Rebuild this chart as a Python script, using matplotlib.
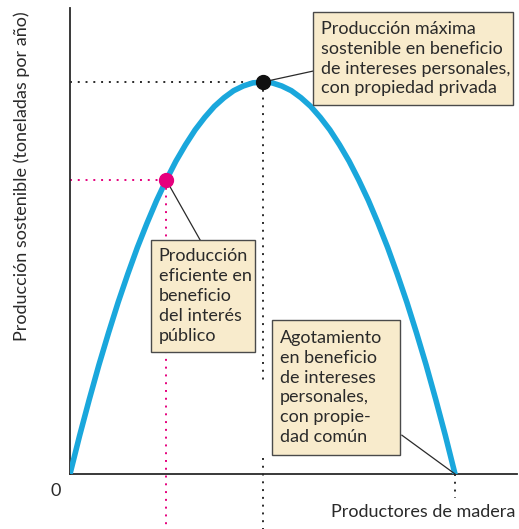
import numpy as np
import matplotlib.pyplot as plt
from matplotlib.patches import Rectangle

plt.rcParams['font.family'] = ['Lato', 'DejaVu Sans']

# harvest level (effort) vs sustainable yield
effort = [0, 2.5, 5, 7.5, 10, 12.5, 15, 17.5, 20, 22.5, 25, 27.5, 30, 32.5, 35, 37.5,
          40, 42.5, 45, 47.5, 50, 52.5, 55, 57.5, 60, 62.5, 65, 67.5, 70, 72.5, 75,
          77.5, 80, 82.5, 85, 87.5, 90, 92.5, 95, 97.5, 100]
yield_ = [0, 9.8, 19, 27.8, 36, 43.8, 51, 57.8, 64, 69.8, 75, 79.8, 84, 87.8, 91, 93.8,
          96, 97.8, 99, 99.8, 100, 99.8, 99, 97.8, 96, 93.8, 91, 87.8, 84, 79.8, 75,
          69.8, 64, 57.8, 51, 43.8, 36, 27.8, 19, 9.8, 0]

max_pt = (50, 100)       # private property maximum
eff_pt = (25, 75)        # efficient, public interest
dep_pt = (100, 0)        # depletion, common property

labels = [
    "Producción máxima\nsostenible en beneficio\nde intereses personales,\ncon propiedad privada",
    "Producción\neficiente en\nbeneficio\ndel interés\npúblico",
    "Agotamiento\nen beneficio\nde intereses\npersonales,\ncon propie-\ndad común",
]
# box extents (x0, x1, y0, y1) and leader line end
boxes = [(63.1, 115.1, 94.1, 117.9), (21.0, 48.05, 31.1, 59.7), (52.5, 85.7, 4.85, 39.3)]
leaders = [(max_pt, (63.1, 102.8)), (eff_pt, (33.8, 59.7)), (dep_pt, (86.2, 9.9))]

blue = '#1aa7dc'
pink = '#e5007d'
box_fc = '#f8ebcc'
ink = '#2a2a2a'

fig = plt.figure(figsize=(5.19, 5.29), dpi=100)
ax = fig.add_axes([70 / 519, 55 / 529, 447 / 519, 466 / 529])
ax.set_xlim(0, 116.1)
ax.set_ylim(0, 118.9)
for s in ['top', 'right']:
    ax.spines[s].set_visible(False)
for s in ['left', 'bottom']:
    ax.spines[s].set_linewidth(1.3)
    ax.spines[s].set_color(ink)
ax.set_xticks([])
ax.set_yticks([])

dot = (0, (1, 3))
# guide lines
ax.plot([0, max_pt[0]], [max_pt[1]] * 2, color=ink, lw=1.4, ls=dot)
ax.plot([max_pt[0]] * 2, [max_pt[1], 24], color=ink, lw=1.4, ls=dot)
ax.plot([max_pt[0]] * 2, [4, -14], color=ink, lw=1.4, ls=dot, clip_on=False)
ax.plot([0, eff_pt[0]], [eff_pt[1]] * 2, color=pink, lw=1.4, ls=dot)
ax.plot([eff_pt[0]] * 2, [eff_pt[1], -14], color=pink, lw=1.4, ls=dot, clip_on=False)
ax.plot([dep_pt[0]] * 2, [0, -6], color=ink, lw=1.4, ls=dot, clip_on=False)

ax.plot(effort, yield_, color=blue, lw=4.0, solid_joinstyle='round', zorder=3)
ax.plot(*max_pt, 'o', color='#111111', ms=10, zorder=5)
ax.plot(*eff_pt, 'o', color=pink, ms=10, zorder=5)

for (p, q) in leaders:
    ax.plot([p[0], q[0]], [p[1], q[1]], color=ink, lw=0.9, zorder=4)

fs = 13
for lab, (x0, x1, y0, y1) in zip(labels, boxes):
    ax.add_patch(Rectangle((x0, y0), x1 - x0, y1 - y0, fc=box_fc, ec='#4a4a4a',
                           lw=1.0, zorder=6, clip_on=False))
    ax.text(x0 + 2.0, (y0 + y1) / 2, lab, fontsize=fs, va='center', ha='left',
            linespacing=1.3, zorder=7, color=ink)

ax.text(-3.8, -4.3, "0", fontsize=fs, ha='center', va='center', color=ink)
ax.text(115.6, -9.7, "Productores de madera", fontsize=fs, ha='right',
        va='center', color=ink, clip_on=False)
ax.text(-12.5, 76, "Producción sostenible (toneladas por año)", fontsize=fs,
        rotation=90, ha='center', va='center', color=ink)

fig.savefig('out.png', dpi=100)
